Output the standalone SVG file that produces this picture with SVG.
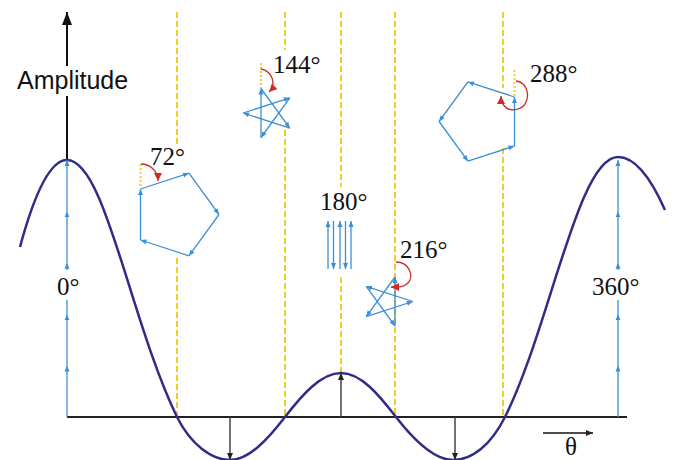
<svg xmlns="http://www.w3.org/2000/svg" width="673" height="460" viewBox="0 0 673 460">
<defs>
<marker id="bh" markerUnits="userSpaceOnUse" markerWidth="7" markerHeight="6" refX="6" refY="3" orient="auto"><path d="M0,0.5 L6,3 L0,5.5 z" fill="#3b8fd6"/></marker>
<marker id="kh" markerUnits="userSpaceOnUse" markerWidth="8" markerHeight="7" refX="7" refY="3.5" orient="auto"><path d="M0,0.5 L7,3.5 L0,6.5 z" fill="#222"/></marker>
<marker id="ax" markerUnits="userSpaceOnUse" markerWidth="14" markerHeight="12" refX="13" refY="5" orient="auto"><path d="M0,0 L13,5 L0,10 z" fill="#111"/></marker>
<marker id="rh" markerUnits="userSpaceOnUse" markerWidth="9" markerHeight="8" refX="8" refY="4" orient="auto"><path d="M0,0 L8,4 L0,8 z" fill="#cc2b27"/></marker>
</defs>
<style>
.dash{stroke:#efcd2a;stroke-width:2;stroke-dasharray:6 3;fill:none}
.dot{stroke:#efcd2a;stroke-width:2;stroke-dasharray:2 2;fill:none}
.ph{stroke:#3b8fd6;stroke-width:1.3;fill:none;marker-end:url(#bh)}
.arc{stroke:#cc2b27;stroke-width:1.3;fill:none;marker-end:url(#rh)}
.ar{stroke:#444;stroke-width:1.5;fill:none;marker-end:url(#kh)}
</style>
<g id="guides">
<path class="dash" d="M177,12V145M177,258V417"/>
<path class="dash" d="M285,12V50M285,130V417"/>
<path class="dash" d="M341,12V187M341,277V373"/>
<path class="dash" d="M395,12V417"/>
<path class="dash" d="M503,12V88M503,148V417"/>
</g>
<g id="axes">
<line x1="67" y1="160" x2="67" y2="96" stroke="#111" stroke-width="2"/>
<line x1="67" y1="66" x2="67" y2="12" stroke="#111" stroke-width="2" marker-end="url(#ax)"/>
<line x1="67" y1="417" x2="627" y2="417" stroke="#222" stroke-width="2"/>
<line x1="543" y1="433" x2="593" y2="433" stroke="#111" stroke-width="1.3" marker-end="url(#kh)"/>
<text x="17" y="89" font-family="'Liberation Sans', Arial, sans-serif" font-size="25" fill="#111">Amplitude</text>
<text x="565" y="455" font-family="'Liberation Serif', 'Times New Roman', serif" font-size="25" fill="#111">θ</text>
</g>
<g id="connectors">
<path d="M20,247 Q43.5,160 67,160 C105,160 130,320 177,417 C191,445 212,460 230,460 C249,460 268,439 285,417 C302,395 321,373 341,373 C361,373 379,395 396,417 C413,439 434,460 453,460 C472,460 491,445 505,417 C550,327 578,157 618,157 Q641.5,157 665,210" fill="none" stroke="#312d86" stroke-width="2.5"/>
<line class="ar" x1="230" y1="417" x2="230" y2="460"/>
<line class="ar" x1="455" y1="417" x2="455" y2="460"/>
<line class="ar" x1="341" y1="417" x2="341" y2="373"/>
</g>
<g id="phasor0">
<path class="ph" d="M67,417V365.6"/><path class="ph" d="M67,365.6V314.2"/><path class="ph" d="M67,314.2V262.8"/><path class="ph" d="M67,262.8V211.4"/><path class="ph" d="M67,211.4V160"/>
<rect x="55" y="270" width="30" height="30" fill="#fff"/>
<text x="57" y="295" font-family="'Liberation Serif', 'Times New Roman', serif" font-size="25" fill="#111">0°</text>
</g>
<g id="phasor360">
<path class="ph" d="M618,417V365.6"/><path class="ph" d="M618,365.6V314.2"/><path class="ph" d="M618,314.2V262.8"/><path class="ph" d="M618,262.8V211.4"/><path class="ph" d="M618,211.4V160"/>
<rect x="591" y="270" width="52" height="30" fill="#fff"/>
<text x="592" y="295" font-family="'Liberation Serif', 'Times New Roman', serif" font-size="25" fill="#111">360°</text>
</g>
<g id="phasor72">
<path class="dot" d="M140.5,164V188"/>
<path class="ph" d="M140.5,240L140.5,189"/><path class="ph" d="M140.5,189L189,173.2"/><path class="ph" d="M189,173.2L219,214.5"/><path class="ph" d="M219,214.5L189,255.8"/><path class="ph" d="M189,255.8L140.5,240"/>
<path class="arc" d="M141,164 C150,164 158,171 158,181"/>
<text x="150" y="165" font-family="'Liberation Serif', 'Times New Roman', serif" font-size="25" fill="#111">72°</text>
</g>
<g id="phasor144">
<path class="dot" d="M261,63V88"/>
<path class="ph" d="M261,137.5L261,88.5"/><path class="ph" d="M261,88.5L289.8,128.1"/><path class="ph" d="M289.8,128.1L243.2,113"/><path class="ph" d="M243.2,113L289.8,97.8"/><path class="ph" d="M289.8,97.8L261,137.5"/>
<path class="arc" d="M261,69 C272,71 277,84 269,92"/>
<text x="273" y="73" font-family="'Liberation Serif', 'Times New Roman', serif" font-size="25" fill="#111">144°</text>
</g>
<g id="phasor180">
<path class="ph" d="M328,269V221"/><path class="ph" d="M333.5,221V269"/><path class="ph" d="M340,269V221"/><path class="ph" d="M345.5,221V269"/><path class="ph" d="M351,269V221"/>
<text x="320" y="210" font-family="'Liberation Serif', 'Times New Roman', serif" font-size="25" fill="#111">180°</text>
</g>
<g id="phasor216">
<path class="ph" d="M395,326L395,277"/><path class="ph" d="M395,277L366.2,316.6"/><path class="ph" d="M366.2,316.6L412.8,301.5"/><path class="ph" d="M412.8,301.5L366.2,286.4"/><path class="ph" d="M366.2,286.4L395,326"/>
<path class="arc" d="M396,262 C410,262 414,277 408,283 C403,288 397,287 391,287"/>
<text x="400" y="258" font-family="'Liberation Serif', 'Times New Roman', serif" font-size="25" fill="#111">216°</text>
</g>
<g id="phasor288">
<path class="dot" d="M514.5,70V97"/>
<path class="ph" d="M514.5,146L514.5,97"/><path class="ph" d="M514.5,97L467.9,81.9"/><path class="ph" d="M467.9,81.9L439.1,121.5"/><path class="ph" d="M439.1,121.5L467.9,161.2"/><path class="ph" d="M467.9,161.2L514.5,146"/>
<path class="arc" d="M516,81 C530,82 532,105 518,109 C508,112 501,106 501,96"/>
<text x="530" y="82" font-family="'Liberation Serif', 'Times New Roman', serif" font-size="25" fill="#111">288°</text>
</g>
</svg>
